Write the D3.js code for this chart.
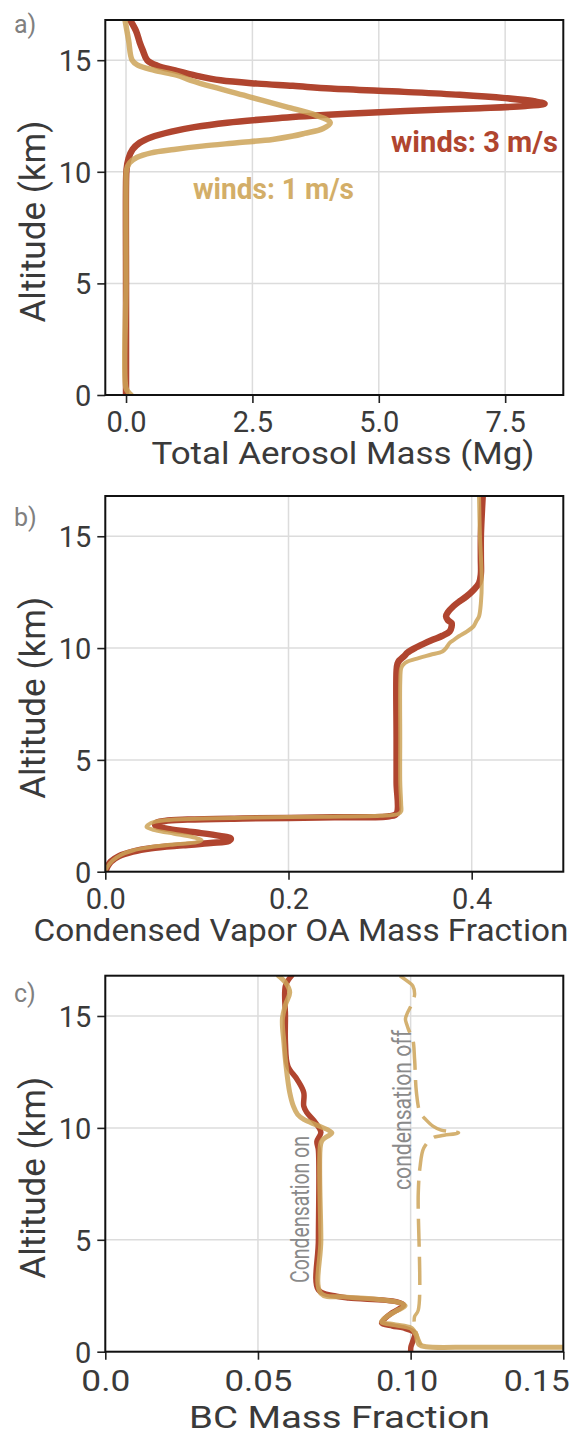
<!DOCTYPE html>
<html><head><meta charset="utf-8">
<script src="https://cdn.jsdelivr.net/npm/d3@7/dist/d3.min.js"></script>
<style>
body{margin:0;background:#fff}
svg{display:block}
text{font-family:Roboto,"Liberation Sans",sans-serif}
</style></head>
<body><svg id="fig" width="576" height="1435"></svg>
<script>
// ---------- data ----------
const altTicks = [0, 5, 10, 15];
const altTickLabels = ["0", "5", "10", "15"];
const massTicks = [0, 2.5, 5, 7.5];
const massTickLabels = ["0.0", "2.5", "5.0", "7.5"];
const oaTicks = [0, 0.2, 0.4];
const oaTickLabels = ["0.0", "0.2", "0.4"];
const bcTicks = [0, 0.05, 0.10, 0.15];
const bcTickLabels = ["0.0", "0.05", "0.10", "0.15"];

// [altitude km, value]
const massWinds3 = [[16.8,0.08],[16.3,0.2],[15.8,0.27],[15.45,0.33],[15.0,0.42],[14.75,0.62],[14.55,0.95],[14.3,1.4],[14.1,1.87],[13.95,2.6],[13.85,3.3],[13.73,4.05],[13.58,5.5],[13.45,6.6],[13.3,7.5],[13.15,8.1],[13.05,8.28],[12.95,7.9],[12.85,7.0],[12.76,5.9],[12.65,4.8],[12.55,4.0],[12.4,3.0],[12.2,2.0],[12.0,1.35],[11.8,0.9],[11.55,0.5],[11.3,0.27],[11.0,0.13],[10.6,0.05],[10.1,0.01],[9.5,0],[5,0],[0,0]];
const massWinds1 = [[16.8,-0.02],[15.9,0.05],[15.0,0.12],[14.78,0.23],[14.55,0.56],[14.33,1.0],[14.1,1.28],[13.8,1.72],[13.36,2.44],[12.91,3.17],[12.54,3.75],[12.2,4.04],[11.94,3.9],[11.72,3.53],[11.6,3.3],[11.45,2.9],[11.3,2.2],[11.15,1.5],[11.0,0.95],[10.85,0.5],[10.65,0.22],[10.4,0.07],[10.1,0.01],[9.5,0],[5,0],[0.3,0],[0.12,0.05],[0,0.1]];

const oaWinds3 = [[16.8,0.412],[16.0,0.411],[15.0,0.410],[14.0,0.410],[13.3,0.410],[12.9,0.408],[12.6,0.402],[12.3,0.394],[12.1,0.387],[11.87,0.380],[11.6,0.374],[11.42,0.372],[11.25,0.374],[11.12,0.378],[10.95,0.378],[10.75,0.376],[10.55,0.368],[10.38,0.358],[10.2,0.348],[10.0,0.338],[9.8,0.330],[9.63,0.326],[9.45,0.321],[9.3,0.319],[9.0,0.318],[6.0,0.318],[4.0,0.318],[2.6,0.318],[2.48,0.31],[2.43,0.25],[2.38,0.15],[2.33,0.09],[2.27,0.065],[2.17,0.055],[2.05,0.055],[1.9,0.07],[1.75,0.10],[1.6,0.125],[1.48,0.137],[1.38,0.135],[1.28,0.115],[1.18,0.085],[1.05,0.05],[0.9,0.03],[0.7,0.015],[0.45,0.006],[0.2,0.002],[0,0]];
const oaWinds1 = [[16.8,0.408],[15.0,0.409],[13.0,0.411],[12.0,0.410],[11.42,0.408],[11.2,0.405],[10.97,0.402],[10.75,0.395],[10.53,0.386],[10.35,0.380],[10.23,0.376],[10.0,0.372],[9.85,0.368],[9.7,0.355],[9.55,0.342],[9.4,0.330],[9.25,0.325],[9.1,0.323],[8.5,0.322],[6.0,0.322],[4.0,0.322],[3.0,0.323],[2.7,0.323],[2.58,0.32],[2.5,0.30],[2.46,0.24],[2.42,0.16],[2.37,0.10],[2.3,0.065],[2.18,0.05],[2.0,0.045],[1.85,0.055],[1.7,0.075],[1.55,0.095],[1.42,0.105],[1.32,0.10],[1.22,0.075],[1.1,0.05],[0.95,0.03],[0.75,0.017],[0.5,0.008],[0.2,0.002],[0,0]];

const bcWinds3 = [[16.8,0.061],[16.35,0.059],[15.0,0.059],[13.8,0.059],[12.76,0.0598],[12.17,0.0628],[11.58,0.065],[10.97,0.065],[10.69,0.066],[10.24,0.0688],[9.8,0.0706],[9.4,0.0693],[9.0,0.0698],[5.0,0.0698],[2.76,0.0698],[2.5,0.075],[2.4,0.0797],[2.24,0.0953],[2.09,0.0977],[1.9,0.096],[1.7,0.0935],[1.5,0.0917],[1.28,0.0905],[1.15,0.094],[1.06,0.0977],[0.83,0.1013],[0.5,0.1008],[0.22,0.1001],[0,0.1]];
const bcWinds1 = [[16.8,0.0567],[16.5,0.059],[16.06,0.0604],[15.5,0.059],[14.86,0.058],[13.8,0.0585],[12.76,0.0592],[11.58,0.0604],[10.97,0.0616],[10.6,0.063],[10.38,0.065],[10.08,0.070],[9.78,0.0742],[9.6,0.0725],[9.48,0.0712],[9.26,0.0705],[5.0,0.0706],[2.61,0.0706],[2.45,0.078],[2.35,0.088],[2.2,0.096],[2.05,0.0982],[1.8,0.095],[1.55,0.092],[1.34,0.0905],[1.2,0.095],[1.06,0.100],[0.75,0.1018],[0.5,0.1022],[0.32,0.1028],[0.22,0.105],[0.2,0.12],[0.2,0.14],[0.2,0.16]];
const bcCondOff = [[16.8,0.0965],[16.5,0.0995],[16.35,0.1007],[15.97,0.1013],[15.7,0.1008],[15.45,0.1001],[15.15,0.099],[14.86,0.0983],[14.6,0.0988],[14.33,0.0995],[13.96,0.1007],[13.06,0.1013],[11.58,0.1019],[10.68,0.1031],[10.38,0.1049],[10.08,0.1073],[9.9,0.110],[9.78,0.1157],[9.65,0.110],[9.56,0.1073],[9.1,0.1043],[8.28,0.1031],[7.09,0.1025],[1.86,0.1025],[1.57,0.1013],[1.12,0.1013],[0.6,0.1025],[0.3,0.1035]];

// ---------- styles ----------
const RED = "#B0452F", TAN = "#CCA358";
const L = 105.3, R = 563.3;
const svg = d3.select("#fig");

function panel(o) {
  const g = svg.append("g");
  const x = d3.scaleLinear().domain(o.xDomain).range([L, R]);
  const y = d3.scaleLinear().domain([0, 16.8]).range([o.bottom, o.top]);
  const clipId = "clip" + o.id;
  svg.append("clipPath").attr("id", clipId).append("rect")
    .attr("x", L).attr("y", o.top).attr("width", R - L).attr("height", o.bottom - o.top);
  // grid
  g.append("g").selectAll("line").data(o.xTicks).join("line")
    .attr("x1", d => x(d)).attr("x2", d => x(d)).attr("y1", o.top).attr("y2", o.bottom)
    .attr("stroke", "#dcdcdc").attr("stroke-width", 1.5);
  g.append("g").selectAll("line").data(altTicks).join("line")
    .attr("y1", d => y(d)).attr("y2", d => y(d)).attr("x1", L).attr("x2", R)
    .attr("stroke", "#dcdcdc").attr("stroke-width", 1.5);
  // series
  const line = d3.line().x(d => x(d[1])).y(d => y(d[0])).curve(d3.curveCatmullRom.alpha(0.5));
  const sg = g.append("g").attr("clip-path", `url(#${clipId})`);
  o.series.forEach(s => {
    sg.append("path").attr("d", line(s.data)).attr("fill", "none")
      .attr("stroke", s.color).attr("stroke-width", s.width).attr("stroke-opacity", s.opacity)
      .attr("stroke-linejoin", "round").attr("stroke-linecap", s.dash ? "butt" : "round")
      .attr("stroke-dasharray", s.dash || null);
  });
  // axes
  const ax = g.append("g").attr("transform", `translate(0,${o.bottom})`)
    .call(d3.axisBottom(x).tickValues(o.xTicks).tickFormat((d, i) => o.xLabels[i]).tickSize(8).tickPadding(5));
  const ay = g.append("g").attr("transform", `translate(${L},0)`)
    .call(d3.axisLeft(y).tickValues(altTicks).tickFormat((d, i) => altTickLabels[i]).tickSize(8).tickPadding(6));
  [ax, ay].forEach(a => {
    a.select(".domain").remove();
    a.selectAll(".tick line").attr("stroke", "#222").attr("stroke-width", 1.6);
    a.selectAll(".tick text").attr("fill", "#3a3a3a").style("font-size", o.tickFont + "px")
      .style("font-family", "Roboto");
  });
  ay.selectAll(".tick text").attr("dy", "0.36em");
  ax.selectAll(".tick text").attr("dy", null).attr("y", o.xTickBaseline);
  if (o.xTickLen) ax.selectAll(".tick text").each(function(d, i) {
    if (o.xTickLen[i]) d3.select(this).attr("textLength", o.xTickLen[i]).attr("lengthAdjust", "spacingAndGlyphs");
    if (o.xTickDx && o.xTickDx[i]) d3.select(this).attr("dx", o.xTickDx[i]);
  });
  // frame
  g.append("rect").attr("x", L).attr("y", o.top).attr("width", R - L).attr("height", o.bottom - o.top)
    .attr("fill", "none").attr("stroke", "#111").attr("stroke-width", 2);
  // titles
  g.append("text").attr("x", o.titleX).attr("y", o.bottom + o.titleOff).attr("text-anchor", "middle")
    .attr("fill", "#3a3a3a").style("font-size", o.titleFont + "px")
    .attr("textLength", o.titleLen).attr("lengthAdjust", "spacingAndGlyphs").text(o.title);
  g.append("text").attr("transform", `translate(45,${(o.top + o.bottom) / 2 + 14}) rotate(-90)`)
    .attr("text-anchor", "middle").attr("fill", "#3a3a3a").style("font-size", "35px")
    .attr("textLength", 202).attr("lengthAdjust", "spacingAndGlyphs").text("Altitude (km)");
  g.append("text").attr("x", 14).attr("y", o.labelY).attr("fill", "#808080")
    .style("font-size", "25px").text(o.label);
  return {g, x, y};
}

// Panel a
const pa = panel({id: "a", top: 20, bottom: 395, xDomain: [-0.41, 8.65], xTicks: massTicks, xLabels: massTickLabels,
  tickFont: 29, xTickBaseline: 37, title: "Total Aerosol Mass (Mg)", titleX: 343, titleOff: 69, titleLen: 383, titleFont: 32,
  label: "a)", labelY: 33,
  series: [
    {data: massWinds3, color: RED, width: 6.5, opacity: 1},
    {data: massWinds1, color: TAN, width: 5.5, opacity: 0.85}
  ]});
pa.g.append("text").attr("x", 391).attr("y", 151.5).attr("fill", RED).style("font-size", "29px")
  .style("font-weight", "bold").attr("textLength", 167).attr("lengthAdjust", "spacingAndGlyphs").text("winds: 3 m/s");
pa.g.append("text").attr("x", 193).attr("y", 198.5).attr("fill", "#D3AE68").style("font-size", "29px")
  .style("font-weight", "bold").attr("textLength", 161).attr("lengthAdjust", "spacingAndGlyphs").text("winds: 1 m/s");

// Panel b
panel({id: "b", top: 496, bottom: 871.7, xDomain: [0, 0.5], xTicks: oaTicks, xLabels: oaTickLabels,
  tickFont: 29, xTickBaseline: 37, title: "Condensed Vapor OA Mass Fraction", titleX: 301, titleOff: 69, titleLen: 535, titleFont: 32,
  label: "b)", labelY: 526,
  series: [
    {data: oaWinds3, color: RED, width: 6.5, opacity: 1},
    {data: oaWinds1, color: TAN, width: 4, opacity: 0.85}
  ]});

// Panel c
const pc = panel({id: "c", top: 975.7, bottom: 1351.7, xDomain: [0, 0.15], xTicks: bcTicks, xLabels: bcTickLabels,
  tickFont: 29, xTickBaseline: 39, xTickLen: [49, 68, 62, 66], xTickDx: [0, 0, -4, -27],
  title: "BC Mass Fraction", titleX: 339.5, titleOff: 76, titleLen: 301, titleFont: 32,
  label: "c)", labelY: 1002,
  series: [
    {data: bcWinds3, color: RED, width: 5.5, opacity: 1},
    {data: bcWinds1, color: TAN, width: 5, opacity: 0.85},
    {data: bcCondOff, color: TAN, width: 3.5, opacity: 0.85, dash: "28,10"}
  ]});
pc.g.append("text").attr("transform", "translate(309,1283) rotate(-90)").attr("fill", "#8a8a8a")
  .style("font-size", "25px").attr("textLength", 147).attr("lengthAdjust", "spacingAndGlyphs").text("Condensation on");
pc.g.append("text").attr("transform", "translate(411,1190) rotate(-90)").attr("fill", "#8a8a8a")
  .style("font-size", "25px").attr("textLength", 160).attr("lengthAdjust", "spacingAndGlyphs").text("condensation off");
</script>
</body></html>
